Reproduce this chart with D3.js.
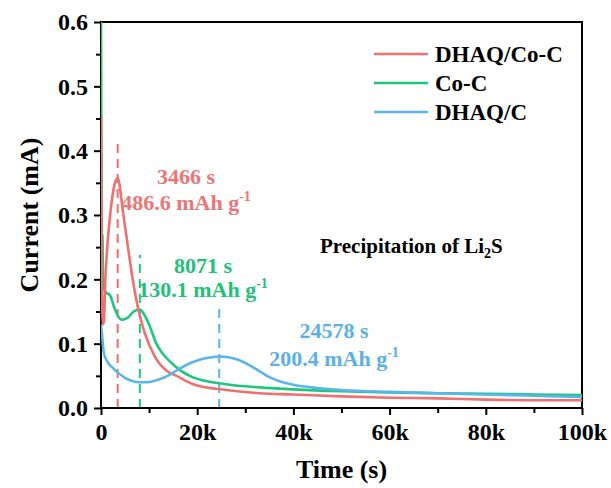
<!DOCTYPE html>
<html><head><meta charset="utf-8">
<script src="https://cdn.jsdelivr.net/npm/d3@7"></script>
<style>
html,body{margin:0;padding:0;background:#fff;}
svg text{font-family:"Liberation Serif","Times New Roman",serif;font-weight:bold;}
</style></head>
<body><svg id="chart" width="611" height="488"></svg>
<script>
// ---- data ----
const seriesNames = ["DHAQ/Co-C", "Co-C", "DHAQ/C"];
const seriesColors = ["#f07070", "#1ec77c", "#5cb4ec"];

const redTime  = [0,150,400,600,900,1300,1900,2900,3466,4600,5600,6300,7100,7800,9100,11200,14000,15400,19200,26000,33000,40000,50000,60000,70000,80000,90000,100000];
const redValue = [0.452,0.2,0.13,0.135,0.2,0.25,0.30,0.35,0.357,0.303,0.25,0.214,0.178,0.152,0.116,0.08,0.056,0.051,0.037,0.028,0.023,0.021,0.018,0.016,0.015,0.013,0.012,0.012];

const greenTime  = [0,60,150,300,420,1000,1900,2800,4300,5500,6800,8071,9000,10200,11500,12300,15400,19000,26000,33000,40000,50000,60000,70000,80000,90000,100000];
const greenValue = [0.62,0.45,0.19,0.27,0.19,0.18,0.175,0.155,0.137,0.14,0.15,0.153,0.145,0.126,0.1,0.09,0.065,0.048,0.037,0.032,0.029,0.026,0.024,0.023,0.022,0.021,0.02];

const blueTime  = [0,200,600,1500,2500,3500,5000,6500,8000,9500,11000,13000,15000,17000,19000,21000,23000,24578,26500,28500,31000,33000,35000,37000,40000,45000,50000,60000,70000,80000,90000,100000];
const blueValue = [0.13,0.115,0.085,0.07,0.062,0.055,0.047,0.042,0.04,0.04,0.042,0.047,0.055,0.064,0.071,0.076,0.079,0.08,0.079,0.075,0.066,0.057,0.048,0.042,0.036,0.031,0.028,0.025,0.023,0.021,0.019,0.017];

const peakTime  = [3466, 8071, 24578];
const peakTop   = [0.416, 0.238, 0.155];
const peakLabel1 = ["3466 s", "8071 s", "24578 s"];
const peakLabel2 = ["486.6 mAh g", "130.1 mAh g", "200.4 mAh g"];

const xTicks = [0, 20000, 40000, 60000, 80000, 100000];
const xTickLabels = ["0", "20k", "40k", "60k", "80k", "100k"];
const yTicks = [0, 0.1, 0.2, 0.3, 0.4, 0.5, 0.6];
const yTickLabels = ["0.0","0.1","0.2","0.3","0.4","0.5","0.6"];

// ---- layout ----
const L = 101, R = 582, T = 22, B = 408;
const svg = d3.select("#chart");
const x = d3.scaleLinear().domain([0, 100000]).range([L, R]);
const y = d3.scaleLinear().domain([0, 0.6]).range([B, T]);

svg.append("defs").append("clipPath").attr("id","clip")
  .append("rect").attr("x",L).attr("y",T).attr("width",R-L).attr("height",B-T);

const line = d3.line().x(d=>x(d[0])).y(d=>y(d[1])).curve(d3.curveMonotoneX);
const series = [
  d3.zip(redTime, redValue),
  d3.zip(greenTime, greenValue),
  d3.zip(blueTime, blueValue)
];

// axes (drawn first so curves along the left axis stay visible)
const xAxis = d3.axisBottom(x).tickValues(xTicks).tickFormat((d,i)=>xTickLabels[i]).tickSize(7).tickPadding(8);
const xMinor = d3.axisBottom(x).tickValues(d3.range(10000,100000,20000)).tickFormat("").tickSize(5);
const yAxis = d3.axisLeft(y).tickValues(yTicks).tickFormat((d,i)=>yTickLabels[i]).tickSize(7).tickPadding(6);
const yMinor = d3.axisLeft(y).tickValues(d3.range(0.05,0.6,0.1)).tickFormat("").tickSize(5);

function styleAxis(sel){
  sel.select(".domain").remove();
  sel.selectAll("line").attr("stroke","#000").attr("stroke-width",2);
  sel.selectAll("text").attr("fill","#000").style("font-size","24px");
}
svg.append("g").attr("transform",`translate(0,${B})`).call(xAxis).call(styleAxis);
svg.append("g").attr("transform",`translate(0,${B})`).call(xMinor).call(styleAxis);
svg.append("g").attr("transform",`translate(${L},0)`).call(yAxis).call(styleAxis);
svg.append("g").attr("transform",`translate(${L},0)`).call(yMinor).call(styleAxis);

svg.append("rect").attr("x",L).attr("y",T).attr("width",R-L).attr("height",B-T)
  .attr("fill","none").attr("stroke","#000").attr("stroke-width",2);

const g = svg.append("g").attr("clip-path","url(#clip)");

// dashed peak markers
peakTime.forEach((t,i)=>{
  g.append("line").attr("x1",x(t)).attr("x2",x(t)).attr("y1",y(0)).attr("y2",y(peakTop[i]))
    .attr("stroke",seriesColors[i]).attr("stroke-width",2).attr("stroke-dasharray","9,6");
});

[1,0,2].forEach(i=>{
  g.append("path").datum(series[i]).attr("d",line).attr("fill","none")
    .attr("stroke",seriesColors[i]).attr("stroke-width",2.6).attr("stroke-linejoin","round");
});

// redraw bottom/left axis lines on top but thin so the curve start remains visible
svg.append("line").attr("x1",L).attr("x2",R).attr("y1",B).attr("y2",B).attr("stroke","#000").attr("stroke-width",2);

// axis titles
svg.append("text").attr("x",(L+R)/2).attr("y",478).attr("text-anchor","middle")
  .style("font-size","26px").text("Time (s)");
svg.append("text").attr("transform",`translate(38,${(T+B)/2}) rotate(-90)`).attr("text-anchor","middle")
  .style("font-size","26px").text("Current (mA)");

// legend
seriesNames.forEach((n,i)=>{
  const ly = 54 + i*29;
  svg.append("line").attr("x1",374).attr("x2",428).attr("y1",ly).attr("y2",ly)
    .attr("stroke",seriesColors[i]).attr("stroke-width",2.6);
  svg.append("text").attr("x",435).attr("y",ly+8).style("font-size","23px").attr("fill","#000").text(n);
});

// annotations
const annoX = [186, 203, 334];
const annoY1 = [184, 273, 338];
const annoY2 = [210, 297, 366];
const textColors = ["#ec7575", "#22c07a", "#5cb0e6"];
peakTime.forEach((t,i)=>{
  svg.append("text").attr("x",annoX[i]).attr("y",annoY1[i]).attr("text-anchor","middle")
    .style("font-size","22px").attr("fill",textColors[i]).text(peakLabel1[i]);
  const t2 = svg.append("text").attr("x",annoX[i]).attr("y",annoY2[i]).attr("text-anchor","middle")
    .style("font-size","22px").attr("fill",textColors[i]);
  t2.append("tspan").text(peakLabel2[i]);
  t2.append("tspan").attr("dy",-9).style("font-size","14px").text("-1");
});

// precipitation label
const pl = svg.append("text").attr("x",320).attr("y",253).style("font-size","21px").attr("fill","#000");
pl.append("tspan").text("Precipitation of Li");
pl.append("tspan").attr("dy",5).style("font-size","14px").text("2");
pl.append("tspan").attr("dy",-5).text("S");
</script></body></html>
